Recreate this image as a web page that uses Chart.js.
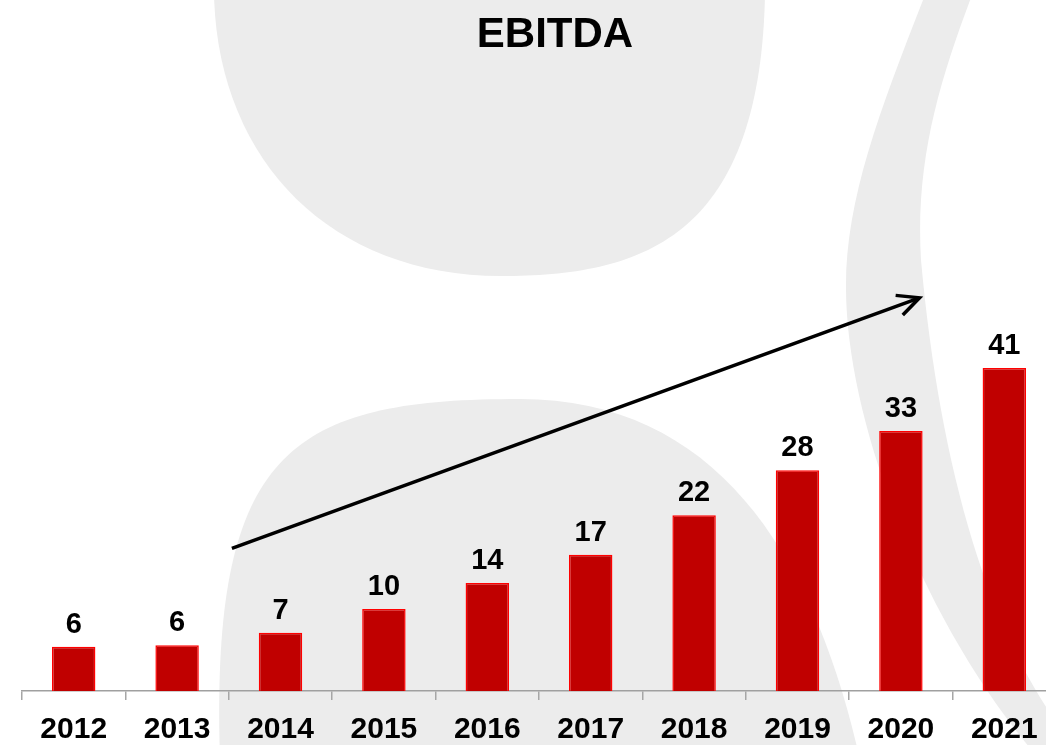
<!DOCTYPE html>
<html>
<head>
<meta charset="utf-8">
<title>EBITDA</title>
<script src="https://cdn.jsdelivr.net/npm/chart.js@4.4.1/dist/chart.umd.min.js"></script>
<style>
  html, body { margin: 0; padding: 0; background: #fff; overflow: hidden; }
  #wrap { width: 1100px; height: 745px; }
</style>
</head>
<body>
<div id="wrap"><canvas id="ebitdaChart" width="1100" height="745"></canvas></div>
<script>
// data
const years = ['2012', '2013', '2014', '2015', '2016', '2017', '2018', '2019', '2020', '2021'];
const ebitda = [5.6, 5.8, 7.4, 10.4, 13.7, 17.3, 22.3, 28.0, 33.0, 41.0];
const chartTitle = 'EBITDA';

// trend arrow, in data space (category index, value)
const trendFrom = [1.53, 18.1];
const trendTo = [8.18, 49.9];

const grey = '#ececec';
const fontFam = '"Liberation Sans", Arial, sans-serif';

// watermark shapes behind the chart
const backgroundShapes = {
  id: 'backgroundShapes',
  beforeDraw(chart) {
    const ctx = chart.ctx;
    ctx.save();
    ctx.fillStyle = '#fff';
    ctx.fillRect(0, 0, chart.width, chart.height);
    ctx.fillStyle = grey;

    // top blob
    ctx.beginPath();
    ctx.moveTo(214, -5);
    ctx.bezierCurveTo(218, 160, 330, 276, 501, 276);
    ctx.bezierCurveTo(640, 276, 760, 240, 765, -5);
    ctx.closePath();
    ctx.fill();

    // bottom blob
    ctx.beginPath();
    ctx.moveTo(220, 760);
    ctx.bezierCurveTo(210, 450, 290, 399, 520, 399);
    ctx.bezierCurveTo(720, 399, 815, 560, 860, 760);
    ctx.closePath();
    ctx.fill();

    // right crescent
    ctx.beginPath();
    ctx.moveTo(925, -5);
    ctx.bezierCurveTo(880, 110, 845, 200, 846, 290);
    ctx.bezierCurveTo(847, 420, 920, 620, 1040, 760);
    ctx.lineTo(1080, 760);
    ctx.lineTo(1070, 740);
    ctx.bezierCurveTo(990, 640, 940, 470, 921, 260);
    ctx.bezierCurveTo(915, 160, 940, 80, 972, -5);
    ctx.closePath();
    ctx.fill();
    ctx.restore();
  }
};

// title, value labels and trend arrow
const overlay = {
  id: 'overlay',
  afterDatasetsDraw(chart) {
    const ctx = chart.ctx;
    const xs = chart.scales.x;
    const ys = chart.scales.y;
    ctx.save();
    ctx.fillStyle = '#000';

    ctx.font = 'bold 42px ' + fontFam;
    ctx.textAlign = 'center';
    ctx.textBaseline = 'alphabetic';
    ctx.fillText(chartTitle, 555, 47);

    ctx.font = 'bold 29px ' + fontFam;
    chart.getDatasetMeta(0).data.forEach((bar, i) => {
      ctx.fillText(String(Math.round(ebitda[i])), bar.x, bar.y - 14);
    });

    const x1 = xs.getPixelForValue(trendFrom[0]);
    const y1 = ys.getPixelForValue(trendFrom[1]);
    const x2 = xs.getPixelForValue(trendTo[0]);
    const y2 = ys.getPixelForValue(trendTo[1]);
    const ang = Math.atan2(y2 - y1, x2 - x1);
    const head = 24;
    ctx.strokeStyle = '#000';
    ctx.lineWidth = 3.5;
    ctx.beginPath();
    ctx.moveTo(x1, y1);
    ctx.lineTo(x2, y2);
    ctx.stroke();
    ctx.beginPath();
    ctx.moveTo(x2 - head * Math.cos(ang - 0.45), y2 - head * Math.sin(ang - 0.45));
    ctx.lineTo(x2, y2);
    ctx.lineTo(x2 - head * Math.cos(ang + 0.45), y2 - head * Math.sin(ang + 0.45));
    ctx.stroke();
    ctx.restore();
  }
};

const ctx = document.getElementById('ebitdaChart');

new Chart(ctx, {
  type: 'bar',
  data: {
    labels: years,
    datasets: [{
      label: chartTitle,
      data: ebitda,
      backgroundColor: '#c00000',
      borderColor: '#ff0000',
      borderWidth: 1.5,
      barPercentage: 0.42,
      categoryPercentage: 1
    }]
  },
  options: {
    responsive: false,
    animation: false,
    layout: {
      padding: { top: 297, left: 22, right: 44, bottom: 0 }
    },
    plugins: {
      legend: { display: false },
      title: { display: false },
      tooltip: { enabled: false }
    },
    scales: {
      x: {
        offset: true,
        grid: {
          display: true,
          offset: true,
          drawOnChartArea: false,
          drawTicks: true,
          tickLength: 9,
          color: '#a6a6a6',
          lineWidth: 1.5
        },
        border: { display: true, color: '#a0a0a0', width: 1.5 },
        ticks: {
          color: '#000',
          padding: 12,
          font: { family: fontFam, size: 30, weight: 'bold', lineHeight: 1.2 },
          maxRotation: 0,
          autoSkip: false
        },
        afterFit(scale) {
          scale.height = 54;
        }
      },
      y: {
        display: false,
        min: 0,
        max: 50
      }
    }
  },
  plugins: [backgroundShapes, overlay]
});
</script>
</body>
</html>
